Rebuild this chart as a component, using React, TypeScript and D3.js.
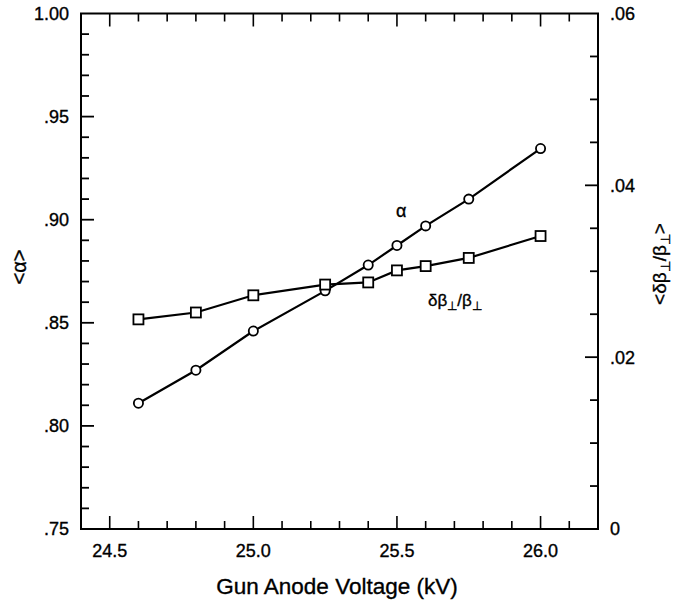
import React from "react";
import * as d3 from "d3";

const voltages = [24.6, 24.8, 25.0, 25.25, 25.4, 25.5, 25.6, 25.75, 26.0];
const alphaValues = [0.811, 0.827, 0.846, 0.8655, 0.878, 0.8875, 0.897, 0.91, 0.9345];
const spreadValues = [0.0244, 0.0252, 0.0272, 0.02845, 0.0287, 0.0301, 0.0306, 0.03155, 0.0341];

const xMajorTicks = [24.5, 25.0, 25.5, 26.0];
const leftMajorTicks = [0.75, 0.8, 0.85, 0.9, 0.95, 1.0];
const leftTickLabels = [".75", ".80", ".85", ".90", ".95", "1.00"];
const rightMajorTicks = [0, 0.02, 0.04, 0.06];
const rightTickLabels = ["0", ".02", ".04", ".06"];

const W = 679;
const H = 605;
const L = 81, R = 598, T = 13.5, B = 529;
const FONT = "'Liberation Sans', Arial, Helvetica, sans-serif";

export default function App() {
  const x = d3.scaleLinear().domain([24.4, 26.2]).range([L, R]);
  const yL = d3.scaleLinear().domain([0.75, 1.0]).range([B, T]);
  const yR = d3.scaleLinear().domain([0, 0.06]).range([B, T]);

  const xMinor = d3.range(24.4, 26.2001, 0.1).map((v) => +v.toFixed(2));
  const leftMinor = d3.range(0.75, 1.0001, 0.01).map((v) => +v.toFixed(3));
  const rightMinor = d3.range(0, 0.06001, 0.005).map((v) => +v.toFixed(4));

  const isMajorX = (v: number) => xMajorTicks.some((m) => Math.abs(m - v) < 1e-6);
  const isMajorL = (v: number) => leftMajorTicks.some((m) => Math.abs(m - v) < 1e-6);
  const isMajorR = (v: number) => rightMajorTicks.some((m) => Math.abs(m - v) < 1e-6);

  const alphaLine = d3
    .line<number>()
    .x((_, i) => x(voltages[i]))
    .y((d) => yL(d));
  const spreadLine = d3
    .line<number>()
    .x((_, i) => x(voltages[i]))
    .y((d) => yR(d));

  const txt = { fill: "#000", stroke: "#000", strokeWidth: 0.35 } as const;
  const sw = 2;
  return (
    <svg
      width={W}
      height={H}
      style={{ position: "absolute", left: 0, top: 0, background: "#fff" }}
      fontFamily={FONT}
    >
      <rect x={0} y={0} width={W} height={H} fill="#fff" />
      {/* bottom and top ticks */}
      {xMinor.map((v) => {
        const len = isMajorX(v) ? 13 : 8;
        const px = x(v);
        if (px <= L + 0.5 || px >= R - 0.5) return null;
        return (
          <g key={"x" + v} stroke="#000" strokeWidth={1.6}>
            <line x1={px} x2={px} y1={B} y2={B - len} />
            <line x1={px} x2={px} y1={T} y2={T + len} />
          </g>
        );
      })}
      {/* left ticks */}
      {leftMinor.map((v) => {
        const len = isMajorL(v) ? 13 : 8;
        const py = yL(v);
        if (py <= T + 0.5 || py >= B - 0.5) return null;
        return <line key={"l" + v} x1={L} x2={L + len} y1={py} y2={py} stroke="#000" strokeWidth={1.8} />;
      })}
      {/* right ticks */}
      {rightMinor.map((v) => {
        const len = isMajorR(v) ? 13 : 8;
        const py = yR(v);
        if (py <= T + 0.5 || py >= B - 0.5) return null;
        return <line key={"r" + v} x1={R} x2={R - len} y1={py} y2={py} stroke="#000" strokeWidth={1.8} />;
      })}
      {/* frame */}
      <rect x={L} y={T} width={R - L} height={B - T} fill="none" stroke="#000" strokeWidth={sw} />

      {/* x tick labels */}
      {xMajorTicks.map((v) => (
        <text key={"xl" + v} x={x(v)} y={557} fontSize={18} textAnchor="middle" {...txt}>
          {v.toFixed(1)}
        </text>
      ))}
      {/* left tick labels */}
      {leftMajorTicks.map((v, i) => (
        <text key={"ll" + v} x={69} y={yL(v)} dy="0.36em" fontSize={18} textAnchor="end" {...txt}>
          {leftTickLabels[i]}
        </text>
      ))}
      {/* right tick labels */}
      {rightMajorTicks.map((v, i) => (
        <text key={"rl" + v} x={610} y={yR(v)} dy="0.36em" fontSize={18} textAnchor="start" {...txt}>
          {rightTickLabels[i]}
        </text>
      ))}

      {/* axis titles */}
      <text x={337} y={594} fontSize={22.5} textAnchor="middle" {...txt}>
        Gun Anode Voltage (kV)
      </text>
      <text transform={`translate(26, 267) rotate(-90)`} fontSize={20} textAnchor="middle" {...txt}>
        {"<α>"}
      </text>
      <text transform={`translate(666, 264) rotate(-90)`} fontSize={19} textAnchor="middle" {...txt}>
        <tspan>{"<δβ"}</tspan>
        <tspan dy={4} fontSize={13}>⊥</tspan>
        <tspan dy={-4}>{"/β"}</tspan>
        <tspan dy={4} fontSize={13}>⊥</tspan>
        <tspan dy={-4}>{">"}</tspan>
      </text>

      {/* series lines */}
      <path d={alphaLine(alphaValues) || ""} fill="none" stroke="#000" strokeWidth={2.2} />
      <path d={spreadLine(spreadValues) || ""} fill="none" stroke="#000" strokeWidth={2.2} />

      {/* markers */}
      {alphaValues.map((v, i) => (
        <circle key={"c" + i} cx={x(voltages[i])} cy={yL(v)} r={4.6} fill="#fff" stroke="#000" strokeWidth={1.8} />
      ))}
      {spreadValues.map((v, i) => (
        <rect
          key={"s" + i}
          x={x(voltages[i]) - 5}
          y={yR(v) - 5}
          width={10}
          height={10}
          fill="#fff"
          stroke="#000"
          strokeWidth={1.8}
        />
      ))}

      {/* series labels */}
      <text x={396} y={217} fontSize={18} {...txt}>
        α
      </text>
      <text x={428} y={306} fontSize={17} {...txt}>
        <tspan>δβ</tspan>
        <tspan dy={4} fontSize={12}>⊥</tspan>
        <tspan dy={-4}>/β</tspan>
        <tspan dy={4} fontSize={12}>⊥</tspan>
      </text>
    </svg>
  );
}
